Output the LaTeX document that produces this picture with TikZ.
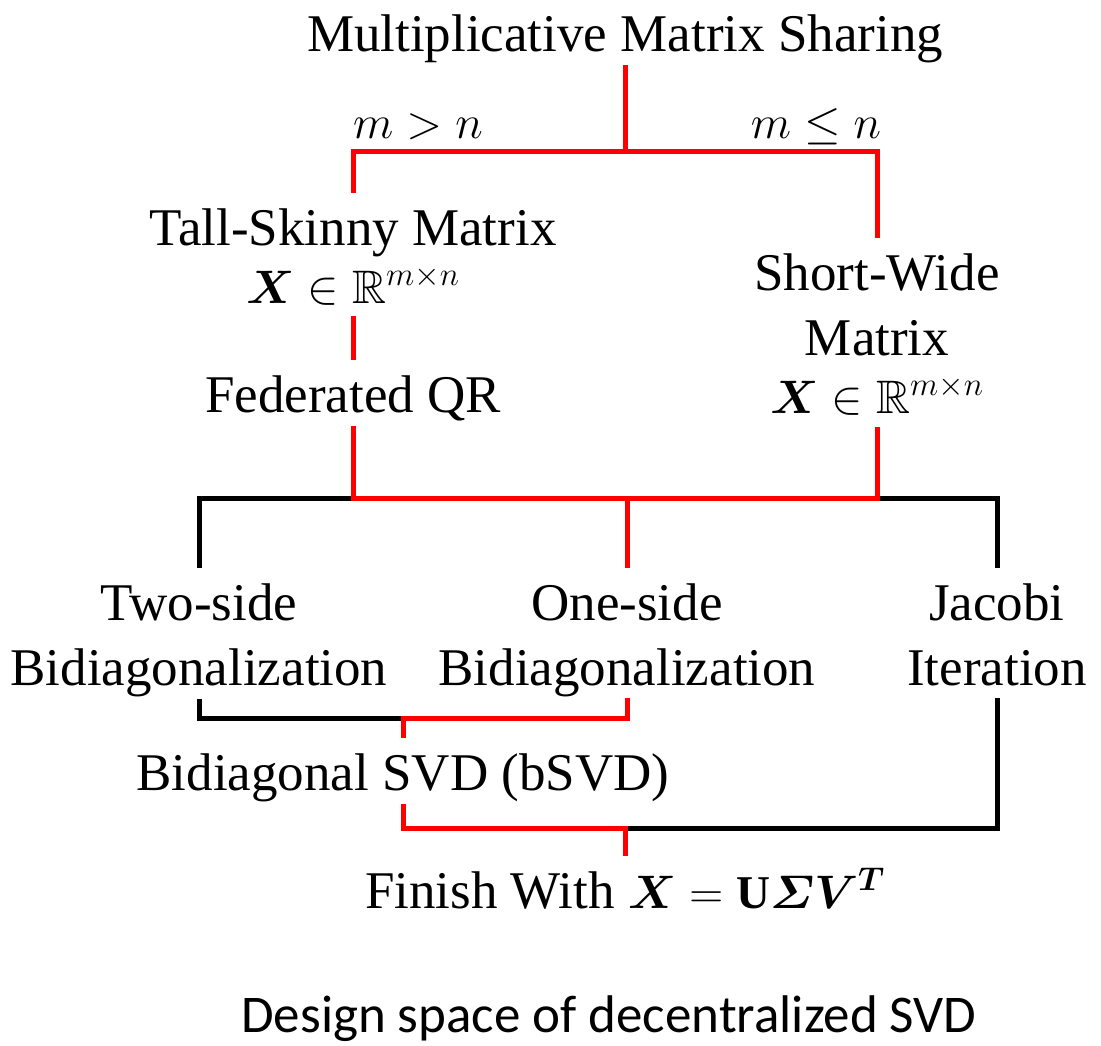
\RequirePackage{fix-cm}
\documentclass[tikz,border=0pt]{standalone}
\usepackage{amsmath,amssymb,bm}
\usepackage{fontspec}
\setmainfont{Liberation Serif}
\newfontfamily\capfont{Carlito}
% formulas are set a little smaller than the running text
\newcommand{\fm}[1]{{\fontsize{47}{56}\selectfont$#1$}}
\begin{document}
\begin{tikzpicture}[x=1pt,y=-1pt,
  lbl/.style={anchor=base,inner sep=0pt,font=\fontsize{53}{64}\selectfont},
  rl/.style={draw=red,line width=5pt,line join=miter},
  bl/.style={draw=black,line width=5pt,line join=miter}]
\useasboundingbox[fill=white] (0,0) rectangle (1101,1046);

% text blocks (placed by baseline)
\node[lbl] (title) at (625,52) {Multiplicative Matrix Sharing};
\node[lbl] (cgt) at (418,139) {\fm{m>n}};
\node[lbl] (cle) at (816,139) {\fm{m\leq n}};
\node[lbl] (tsk1) at (353,245) {Tall-Skinny Matrix};
\node[lbl] (tsk2) at (353,303) {\fm{\boldsymbol{X}\in\mathbb{R}^{m\times n}}};
\node[lbl] (fqr) at (353,412) {Federated QR};
\node[lbl] (sw1) at (877,290) {Short-Wide};
\node[lbl] (sw2) at (877,355) {Matrix};
\node[lbl] (sw3) at (877,413) {\fm{\boldsymbol{X}\in\mathbb{R}^{m\times n}}};
\node[lbl] (two1) at (199,620) {Two-side};
\node[lbl] (two2) at (199,685) {Bidiagonalization};
\node[lbl] (one1) at (627,620) {One-side};
\node[lbl] (one2) at (627,685) {Bidiagonalization};
\node[lbl] (jac1) at (997,620) {Jacobi};
\node[lbl] (jac2) at (997,685) {Iteration};
\node[lbl] (bsvd) at (403,790) {Bidiagonal SVD (bSVD)};
\node[lbl] (fin) at (625,908) {Finish With \fm{\boldsymbol{X}=\mathbf{U}\boldsymbol{\varSigma V}^{\boldsymbol{T}}}};
\node[anchor=base,inner sep=0pt,font=\capfont\fontsize{53}{64}\selectfont] (cap) at (609,1032) {Design space of decentralized SVD};

% junctions
\coordinate (split) at (625,152);
\coordinate (merge) at (627,498);
\coordinate (join1) at (403,718);
\coordinate (join2) at (625,828);

% black branches
\draw[bl] ([yshift=52pt]two1.base) |- (merge) -| ([yshift=52pt]jac1.base);
\draw[bl] ([yshift=-14pt]two2.base) |- (join1);
\draw[bl] ([yshift=-13pt]jac2.base) |- (join2);

% red path
\draw[rl] ([yshift=-13pt]title.base) -- (split);
\draw[rl] ([yshift=52pt]tsk1.base) |- (split) -| ([yshift=52pt]sw1.base);
\draw[rl] ([yshift=-13pt]tsk2.base) -- ([yshift=52pt]fqr.base);
\draw[rl] ([yshift=-14pt]fqr.base) |- (merge) -| ([yshift=-14pt]sw3.base);
\draw[rl] (merge) -- ([yshift=52pt]one1.base);
\draw[rl] ([yshift=-13pt]one2.base) |- (join1) -- ([yshift=52pt]bsvd.base);
\draw[rl] ([yshift=-14pt]bsvd.base) |- (join2) -- ([yshift=52pt]fin.base);
\end{tikzpicture}
\end{document}
